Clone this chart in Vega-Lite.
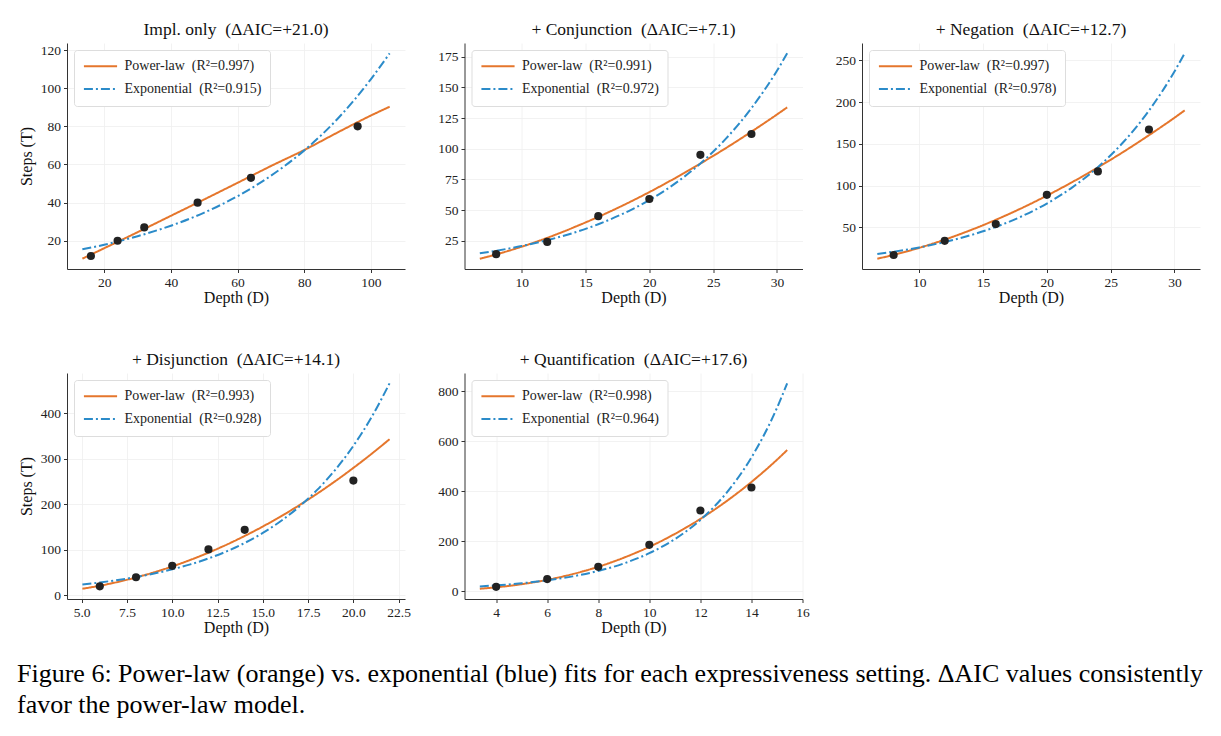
{
  "$schema": "https://vega.github.io/schema/vega-lite/v6.json",
  "padding": {"left": 17, "top": 20, "right": 0, "bottom": 0},
  "background": "white",
  "title": {
    "text": ["Figure 6: Power-law (orange) vs. exponential (blue) fits for each expressiveness setting. ΔAIC values consistently", "favor the power-law model."],
    "orient": "bottom", "anchor": "start", "frame": "group", "dx": -50, "offset": 26,
    "fontSize": 26, "lineHeight": 31, "baseline": "top", "color": "#000", "font": "Liberation Serif", "fontWeight": "normal"
  },
  "datasets": {
    "points": [
      {"p": "P1", "D": 16, "T": 12}, {"p": "P1", "D": 24, "T": 20}, {"p": "P1", "D": 32, "T": 27}, {"p": "P1", "D": 48, "T": 40}, {"p": "P1", "D": 64, "T": 53}, {"p": "P1", "D": 96, "T": 80},
      {"p": "P2", "D": 8, "T": 14}, {"p": "P2", "D": 12, "T": 24}, {"p": "P2", "D": 16, "T": 45}, {"p": "P2", "D": 20, "T": 59}, {"p": "P2", "D": 24, "T": 95}, {"p": "P2", "D": 28, "T": 112},
      {"p": "P3", "D": 8, "T": 17}, {"p": "P3", "D": 12, "T": 34}, {"p": "P3", "D": 16, "T": 54}, {"p": "P3", "D": 20, "T": 89}, {"p": "P3", "D": 24, "T": 117}, {"p": "P3", "D": 28, "T": 167},
      {"p": "P4", "D": 6, "T": 20}, {"p": "P4", "D": 8, "T": 40}, {"p": "P4", "D": 10, "T": 65}, {"p": "P4", "D": 12, "T": 101}, {"p": "P4", "D": 14, "T": 144}, {"p": "P4", "D": 20, "T": 252},
      {"p": "P5", "D": 4, "T": 17}, {"p": "P5", "D": 6, "T": 48}, {"p": "P5", "D": 8, "T": 97}, {"p": "P5", "D": 10, "T": 185}, {"p": "P5", "D": 12, "T": 322}, {"p": "P5", "D": 14, "T": 414}
    ],
    "curves": [
      {"p": "P1", "m": "Power-law", "D": 13.44, "T": 10.6}, {"p": "P1", "m": "Power-law", "D": 20, "T": 16.1}, {"p": "P1", "m": "Power-law", "D": 30, "T": 24.5}, {"p": "P1", "m": "Power-law", "D": 40, "T": 33.1}, {"p": "P1", "m": "Power-law", "D": 50, "T": 41.7}, {"p": "P1", "m": "Power-law", "D": 60, "T": 50.4}, {"p": "P1", "m": "Power-law", "D": 70, "T": 59.2}, {"p": "P1", "m": "Power-law", "D": 80, "T": 67.6}, {"p": "P1", "m": "Power-law", "D": 90, "T": 76.8}, {"p": "P1", "m": "Power-law", "D": 100, "T": 85.7}, {"p": "P1", "m": "Power-law", "D": 105.6, "T": 90.3},
      {"p": "P1", "m": "Exponential", "D": 13.44, "T": 15.5}, {"p": "P1", "m": "Exponential", "D": 20, "T": 17.9}, {"p": "P1", "m": "Exponential", "D": 30, "T": 22.4}, {"p": "P1", "m": "Exponential", "D": 40, "T": 27.9}, {"p": "P1", "m": "Exponential", "D": 50, "T": 34.8}, {"p": "P1", "m": "Exponential", "D": 60, "T": 43.4}, {"p": "P1", "m": "Exponential", "D": 70, "T": 54.1}, {"p": "P1", "m": "Exponential", "D": 80, "T": 67.4}, {"p": "P1", "m": "Exponential", "D": 90, "T": 84.0}, {"p": "P1", "m": "Exponential", "D": 100, "T": 104.8}, {"p": "P1", "m": "Exponential", "D": 105.6, "T": 118.3},
      {"p": "P2", "m": "Power-law", "D": 6.72, "T": 10.3}, {"p": "P2", "m": "Power-law", "D": 8, "T": 13.8}, {"p": "P2", "m": "Power-law", "D": 10, "T": 20.1}, {"p": "P2", "m": "Power-law", "D": 12, "T": 27.3}, {"p": "P2", "m": "Power-law", "D": 14, "T": 35.5}, {"p": "P2", "m": "Power-law", "D": 16, "T": 44.4}, {"p": "P2", "m": "Power-law", "D": 18, "T": 54.1}, {"p": "P2", "m": "Power-law", "D": 20, "T": 64.6}, {"p": "P2", "m": "Power-law", "D": 22, "T": 75.9}, {"p": "P2", "m": "Power-law", "D": 24, "T": 87.9}, {"p": "P2", "m": "Power-law", "D": 26, "T": 100.5}, {"p": "P2", "m": "Power-law", "D": 28, "T": 113.9}, {"p": "P2", "m": "Power-law", "D": 30, "T": 127.9}, {"p": "P2", "m": "Power-law", "D": 30.8, "T": 133.7},
      {"p": "P2", "m": "Exponential", "D": 6.72, "T": 14.7}, {"p": "P2", "m": "Exponential", "D": 8, "T": 16.8}, {"p": "P2", "m": "Exponential", "D": 10, "T": 20.6}, {"p": "P2", "m": "Exponential", "D": 12, "T": 25.4}, {"p": "P2", "m": "Exponential", "D": 14, "T": 31.2}, {"p": "P2", "m": "Exponential", "D": 16, "T": 38.4}, {"p": "P2", "m": "Exponential", "D": 18, "T": 47.3}, {"p": "P2", "m": "Exponential", "D": 20, "T": 58.1}, {"p": "P2", "m": "Exponential", "D": 22, "T": 71.5}, {"p": "P2", "m": "Exponential", "D": 24, "T": 87.9}, {"p": "P2", "m": "Exponential", "D": 26, "T": 108.2}, {"p": "P2", "m": "Exponential", "D": 28, "T": 133.1}, {"p": "P2", "m": "Exponential", "D": 30, "T": 163.6}, {"p": "P2", "m": "Exponential", "D": 30.8, "T": 177.8},
      {"p": "P3", "m": "Power-law", "D": 6.72, "T": 12.6}, {"p": "P3", "m": "Power-law", "D": 8, "T": 17.2}, {"p": "P3", "m": "Power-law", "D": 10, "T": 25.6}, {"p": "P3", "m": "Power-law", "D": 12, "T": 35.4}, {"p": "P3", "m": "Power-law", "D": 14, "T": 46.6}, {"p": "P3", "m": "Power-law", "D": 16, "T": 59.1}, {"p": "P3", "m": "Power-law", "D": 18, "T": 72.9}, {"p": "P3", "m": "Power-law", "D": 20, "T": 88.0}, {"p": "P3", "m": "Power-law", "D": 22, "T": 104.3}, {"p": "P3", "m": "Power-law", "D": 24, "T": 121.8}, {"p": "P3", "m": "Power-law", "D": 26, "T": 140.4}, {"p": "P3", "m": "Power-law", "D": 28, "T": 160.3}, {"p": "P3", "m": "Power-law", "D": 30, "T": 181.2}, {"p": "P3", "m": "Power-law", "D": 30.8, "T": 190.0},
      {"p": "P3", "m": "Exponential", "D": 6.72, "T": 18.2}, {"p": "P3", "m": "Exponential", "D": 8, "T": 21.0}, {"p": "P3", "m": "Exponential", "D": 10, "T": 26.1}, {"p": "P3", "m": "Exponential", "D": 12, "T": 32.6}, {"p": "P3", "m": "Exponential", "D": 14, "T": 40.6}, {"p": "P3", "m": "Exponential", "D": 16, "T": 50.6}, {"p": "P3", "m": "Exponential", "D": 18, "T": 63.1}, {"p": "P3", "m": "Exponential", "D": 20, "T": 78.6}, {"p": "P3", "m": "Exponential", "D": 22, "T": 98.0}, {"p": "P3", "m": "Exponential", "D": 24, "T": 122.1}, {"p": "P3", "m": "Exponential", "D": 26, "T": 152.2}, {"p": "P3", "m": "Exponential", "D": 28, "T": 189.7}, {"p": "P3", "m": "Exponential", "D": 30, "T": 236.5}, {"p": "P3", "m": "Exponential", "D": 30.8, "T": 258.3},
      {"p": "P4", "m": "Power-law", "D": 5.04, "T": 14.7}, {"p": "P4", "m": "Power-law", "D": 6, "T": 21.3}, {"p": "P4", "m": "Power-law", "D": 7, "T": 29.7}, {"p": "P4", "m": "Power-law", "D": 8, "T": 39.5}, {"p": "P4", "m": "Power-law", "D": 9, "T": 50.8}, {"p": "P4", "m": "Power-law", "D": 10, "T": 63.6}, {"p": "P4", "m": "Power-law", "D": 11, "T": 78.0}, {"p": "P4", "m": "Power-law", "D": 12, "T": 93.9}, {"p": "P4", "m": "Power-law", "D": 13, "T": 111.4}, {"p": "P4", "m": "Power-law", "D": 14, "T": 130.6}, {"p": "P4", "m": "Power-law", "D": 15, "T": 151.3}, {"p": "P4", "m": "Power-law", "D": 16, "T": 173.7}, {"p": "P4", "m": "Power-law", "D": 17, "T": 197.7}, {"p": "P4", "m": "Power-law", "D": 18, "T": 223.4}, {"p": "P4", "m": "Power-law", "D": 19, "T": 250.8}, {"p": "P4", "m": "Power-law", "D": 20, "T": 279.9}, {"p": "P4", "m": "Power-law", "D": 21, "T": 310.6}, {"p": "P4", "m": "Power-law", "D": 22, "T": 343.0},
      {"p": "P4", "m": "Exponential", "D": 5.04, "T": 24.1}, {"p": "P4", "m": "Exponential", "D": 6, "T": 28.5}, {"p": "P4", "m": "Exponential", "D": 7, "T": 33.9}, {"p": "P4", "m": "Exponential", "D": 8, "T": 40.4}, {"p": "P4", "m": "Exponential", "D": 9, "T": 48.1}, {"p": "P4", "m": "Exponential", "D": 10, "T": 57.3}, {"p": "P4", "m": "Exponential", "D": 11, "T": 68.2}, {"p": "P4", "m": "Exponential", "D": 12, "T": 81.2}, {"p": "P4", "m": "Exponential", "D": 13, "T": 96.7}, {"p": "P4", "m": "Exponential", "D": 14, "T": 115.2}, {"p": "P4", "m": "Exponential", "D": 15, "T": 137.2}, {"p": "P4", "m": "Exponential", "D": 16, "T": 163.3}, {"p": "P4", "m": "Exponential", "D": 17, "T": 194.5}, {"p": "P4", "m": "Exponential", "D": 18, "T": 231.6}, {"p": "P4", "m": "Exponential", "D": 19, "T": 275.8}, {"p": "P4", "m": "Exponential", "D": 20, "T": 328.4}, {"p": "P4", "m": "Exponential", "D": 21, "T": 391.0}, {"p": "P4", "m": "Exponential", "D": 22, "T": 465.7},
      {"p": "P5", "m": "Power-law", "D": 3.36, "T": 9.5}, {"p": "P5", "m": "Power-law", "D": 4, "T": 15.2}, {"p": "P5", "m": "Power-law", "D": 5, "T": 27.6}, {"p": "P5", "m": "Power-law", "D": 6, "T": 45.0}, {"p": "P5", "m": "Power-law", "D": 7, "T": 68.0}, {"p": "P5", "m": "Power-law", "D": 8, "T": 97.3}, {"p": "P5", "m": "Power-law", "D": 9, "T": 133.5}, {"p": "P5", "m": "Power-law", "D": 10, "T": 177.0}, {"p": "P5", "m": "Power-law", "D": 11, "T": 228.6}, {"p": "P5", "m": "Power-law", "D": 12, "T": 288.7}, {"p": "P5", "m": "Power-law", "D": 13, "T": 357.8}, {"p": "P5", "m": "Power-law", "D": 14, "T": 436.4}, {"p": "P5", "m": "Power-law", "D": 15, "T": 525.1}, {"p": "P5", "m": "Power-law", "D": 15.4, "T": 563.8},
      {"p": "P5", "m": "Exponential", "D": 3.36, "T": 18.7}, {"p": "P5", "m": "Exponential", "D": 4, "T": 22.9}, {"p": "P5", "m": "Exponential", "D": 5, "T": 31.4}, {"p": "P5", "m": "Exponential", "D": 6, "T": 43.0}, {"p": "P5", "m": "Exponential", "D": 7, "T": 58.9}, {"p": "P5", "m": "Exponential", "D": 8, "T": 80.7}, {"p": "P5", "m": "Exponential", "D": 9, "T": 110.6}, {"p": "P5", "m": "Exponential", "D": 10, "T": 151.5}, {"p": "P5", "m": "Exponential", "D": 11, "T": 207.7}, {"p": "P5", "m": "Exponential", "D": 12, "T": 284.6}, {"p": "P5", "m": "Exponential", "D": 13, "T": 390.0}, {"p": "P5", "m": "Exponential", "D": 14, "T": 534.4}, {"p": "P5", "m": "Exponential", "D": 15, "T": 732.3}, {"p": "P5", "m": "Exponential", "D": 15.4, "T": 831.0}
    ]
  },
  "columns": 3,
  "bounds": "flush",
  "spacing": {"row": 104, "column": 59.5},
  "concat": [
    {
      "width": 338, "height": 226,
      "title": "Impl. only\u2002(ΔAIC=+21.0)",
      "encoding": {
        "x": {"field": "D", "type": "quantitative", "scale": {"domain": [8.83, 110.2], "nice": false, "zero": false}, "axis": {"values": [20, 40, 60, 80, 100], "format": "d", "title": "Depth (D)"}},
        "y": {"field": "T", "type": "quantitative", "scale": {"domain": [5.2, 123.7], "nice": false, "zero": false}, "axis": {"values": [20, 40, 60, 80, 100, 120], "format": "d", "title": "Steps (T)"}}
      },
      "layer": [
        {"data": {"name": "curves"}, "transform": [{"filter": "datum.p == 'P1'"}],
         "mark": {"type": "line", "strokeWidth": 2, "interpolate": "monotone"},
         "encoding": {
           "color": {"field": "m", "type": "nominal", "scale": {"domain": ["Power-law", "Exponential"], "range": ["#e5762c", "#2b8bc9"]}, "legend": {"title": null, "labelExpr": "datum.label == 'Power-law' ? 'Power-law\u2002(R²=0.997)' : 'Exponential\u2002(R²=0.915)'"}},
           "strokeDash": {"field": "m", "type": "nominal", "scale": {"domain": ["Power-law", "Exponential"], "range": [[1, 0], [9, 3, 2, 3]]}, "legend": {"title": null, "labelExpr": "datum.label == 'Power-law' ? 'Power-law\u2002(R²=0.997)' : 'Exponential\u2002(R²=0.915)'"}}
         }},
        {"data": {"name": "points"}, "transform": [{"filter": "datum.p == 'P1'"}],
         "mark": {"type": "point", "filled": true, "color": "#222", "size": 66, "opacity": 1}}
      ]
    },
    {
      "width": 338, "height": 226,
      "title": "+ Conjunction\u2002(ΔAIC=+7.1)",
      "encoding": {
        "x": {"field": "D", "type": "quantitative", "scale": {"domain": [5.52, 32.0], "nice": false, "zero": false}, "axis": {"values": [10, 15, 20, 25, 30], "format": "d", "title": "Depth (D)"}},
        "y": {"field": "T", "type": "quantitative", "scale": {"domain": [1.9, 186.2], "nice": false, "zero": false}, "axis": {"values": [25, 50, 75, 100, 125, 150, 175], "format": "d", "title": null}}
      },
      "layer": [
        {"data": {"name": "curves"}, "transform": [{"filter": "datum.p == 'P2'"}],
         "mark": {"type": "line", "strokeWidth": 2, "interpolate": "monotone"},
         "encoding": {
           "color": {"field": "m", "type": "nominal", "scale": {"domain": ["Power-law", "Exponential"], "range": ["#e5762c", "#2b8bc9"]}, "legend": {"title": null, "labelExpr": "datum.label == 'Power-law' ? 'Power-law\u2002(R²=0.991)' : 'Exponential\u2002(R²=0.972)'"}},
           "strokeDash": {"field": "m", "type": "nominal", "scale": {"domain": ["Power-law", "Exponential"], "range": [[1, 0], [9, 3, 2, 3]]}, "legend": {"title": null, "labelExpr": "datum.label == 'Power-law' ? 'Power-law\u2002(R²=0.991)' : 'Exponential\u2002(R²=0.972)'"}}
         }},
        {"data": {"name": "points"}, "transform": [{"filter": "datum.p == 'P2'"}],
         "mark": {"type": "point", "filled": true, "color": "#222", "size": 66, "opacity": 1}}
      ]
    },
    {
      "width": 338, "height": 226,
      "title": "+ Negation\u2002(ΔAIC=+12.7)",
      "encoding": {
        "x": {"field": "D", "type": "quantitative", "scale": {"domain": [5.52, 32.0], "nice": false, "zero": false}, "axis": {"values": [10, 15, 20, 25, 30], "format": "d", "title": "Depth (D)"}},
        "y": {"field": "T", "type": "quantitative", "scale": {"domain": [0.3, 270.6], "nice": false, "zero": false}, "axis": {"values": [50, 100, 150, 200, 250], "format": "d", "title": null}}
      },
      "layer": [
        {"data": {"name": "curves"}, "transform": [{"filter": "datum.p == 'P3'"}],
         "mark": {"type": "line", "strokeWidth": 2, "interpolate": "monotone"},
         "encoding": {
           "color": {"field": "m", "type": "nominal", "scale": {"domain": ["Power-law", "Exponential"], "range": ["#e5762c", "#2b8bc9"]}, "legend": {"title": null, "labelExpr": "datum.label == 'Power-law' ? 'Power-law\u2002(R²=0.997)' : 'Exponential\u2002(R²=0.978)'"}},
           "strokeDash": {"field": "m", "type": "nominal", "scale": {"domain": ["Power-law", "Exponential"], "range": [[1, 0], [9, 3, 2, 3]]}, "legend": {"title": null, "labelExpr": "datum.label == 'Power-law' ? 'Power-law\u2002(R²=0.997)' : 'Exponential\u2002(R²=0.978)'"}}
         }},
        {"data": {"name": "points"}, "transform": [{"filter": "datum.p == 'P3'"}],
         "mark": {"type": "point", "filled": true, "color": "#222", "size": 66, "opacity": 1}}
      ]
    },
    {
      "width": 338, "height": 226,
      "title": "+ Disjunction\u2002(ΔAIC=+14.1)",
      "encoding": {
        "x": {"field": "D", "type": "quantitative", "scale": {"domain": [4.19, 22.85], "nice": false, "zero": false}, "axis": {"values": [5, 7.5, 10, 12.5, 15, 17.5, 20, 22.5], "format": ".1f", "title": "Depth (D)"}},
        "y": {"field": "T", "type": "quantitative", "scale": {"domain": [-7.8, 488.2], "nice": false, "zero": false}, "axis": {"values": [0, 100, 200, 300, 400], "format": "d", "title": "Steps (T)"}}
      },
      "layer": [
        {"data": {"name": "curves"}, "transform": [{"filter": "datum.p == 'P4'"}],
         "mark": {"type": "line", "strokeWidth": 2, "interpolate": "monotone"},
         "encoding": {
           "color": {"field": "m", "type": "nominal", "scale": {"domain": ["Power-law", "Exponential"], "range": ["#e5762c", "#2b8bc9"]}, "legend": {"title": null, "labelExpr": "datum.label == 'Power-law' ? 'Power-law\u2002(R²=0.993)' : 'Exponential\u2002(R²=0.928)'"}},
           "strokeDash": {"field": "m", "type": "nominal", "scale": {"domain": ["Power-law", "Exponential"], "range": [[1, 0], [9, 3, 2, 3]]}, "legend": {"title": null, "labelExpr": "datum.label == 'Power-law' ? 'Power-law\u2002(R²=0.993)' : 'Exponential\u2002(R²=0.928)'"}}
         }},
        {"data": {"name": "points"}, "transform": [{"filter": "datum.p == 'P4'"}],
         "mark": {"type": "point", "filled": true, "color": "#222", "size": 66, "opacity": 1}}
      ]
    },
    {
      "width": 338, "height": 226,
      "title": "+ Quantification\u2002(ΔAIC=+17.6)",
      "encoding": {
        "x": {"field": "D", "type": "quantitative", "scale": {"domain": [2.76, 16.0], "nice": false, "zero": false}, "axis": {"values": [4, 6, 8, 10, 12, 14, 16], "format": "d", "title": "Depth (D)"}},
        "y": {"field": "T", "type": "quantitative", "scale": {"domain": [-31.6, 872], "nice": false, "zero": false}, "axis": {"values": [0, 200, 400, 600, 800], "format": "d", "title": null}}
      },
      "layer": [
        {"data": {"name": "curves"}, "transform": [{"filter": "datum.p == 'P5'"}],
         "mark": {"type": "line", "strokeWidth": 2, "interpolate": "monotone"},
         "encoding": {
           "color": {"field": "m", "type": "nominal", "scale": {"domain": ["Power-law", "Exponential"], "range": ["#e5762c", "#2b8bc9"]}, "legend": {"title": null, "labelExpr": "datum.label == 'Power-law' ? 'Power-law\u2002(R²=0.998)' : 'Exponential\u2002(R²=0.964)'"}},
           "strokeDash": {"field": "m", "type": "nominal", "scale": {"domain": ["Power-law", "Exponential"], "range": [[1, 0], [9, 3, 2, 3]]}, "legend": {"title": null, "labelExpr": "datum.label == 'Power-law' ? 'Power-law\u2002(R²=0.998)' : 'Exponential\u2002(R²=0.964)'"}}
         }},
        {"data": {"name": "points"}, "transform": [{"filter": "datum.p == 'P5'"}],
         "mark": {"type": "point", "filled": true, "color": "#222", "size": 66, "opacity": 1}}
      ]
    }
  ],
  "resolve": {
    "scale": {"x": "independent", "y": "independent", "color": "independent", "strokeDash": "independent"},
    "legend": {"color": "independent", "strokeDash": "independent"}
  },
  "config": {
    "font": "Liberation Serif",
    "view": {"stroke": null},
    "axis": {
      "labelFont": "Liberation Serif", "labelFontSize": 13.5, "labelColor": "#222",
      "titleFont": "Liberation Serif", "titleFontSize": 16, "titleFontWeight": "normal", "titleColor": "#111",
      "domainColor": "#333", "domainWidth": 1, "tickColor": "#333", "tickSize": 3.5, "tickWidth": 1, "labelPadding": 3,
      "gridColor": "#efefef", "gridWidth": 0.8, "labelFlush": false, "labelOverlap": false
    },
    "axisX": {"titlePadding": 0},
    "axisY": {"titlePadding": 6},
    "title": {"font": "Liberation Serif", "fontSize": 17.5, "fontWeight": "normal", "color": "#111", "offset": 5},
    "legend": {
      "orient": "top-left", "offset": 7, "padding": 8.5, "fillColor": "white", "strokeColor": "#dddddd", "cornerRadius": 3,
      "labelFont": "Liberation Serif", "labelFontSize": 14, "labelColor": "#222", "labelOffset": 6,
      "symbolType": "stroke", "symbolSize": 1100, "symbolStrokeWidth": 2, "clipHeight": 15.7, "rowPadding": 6.6
    }
  }
}
